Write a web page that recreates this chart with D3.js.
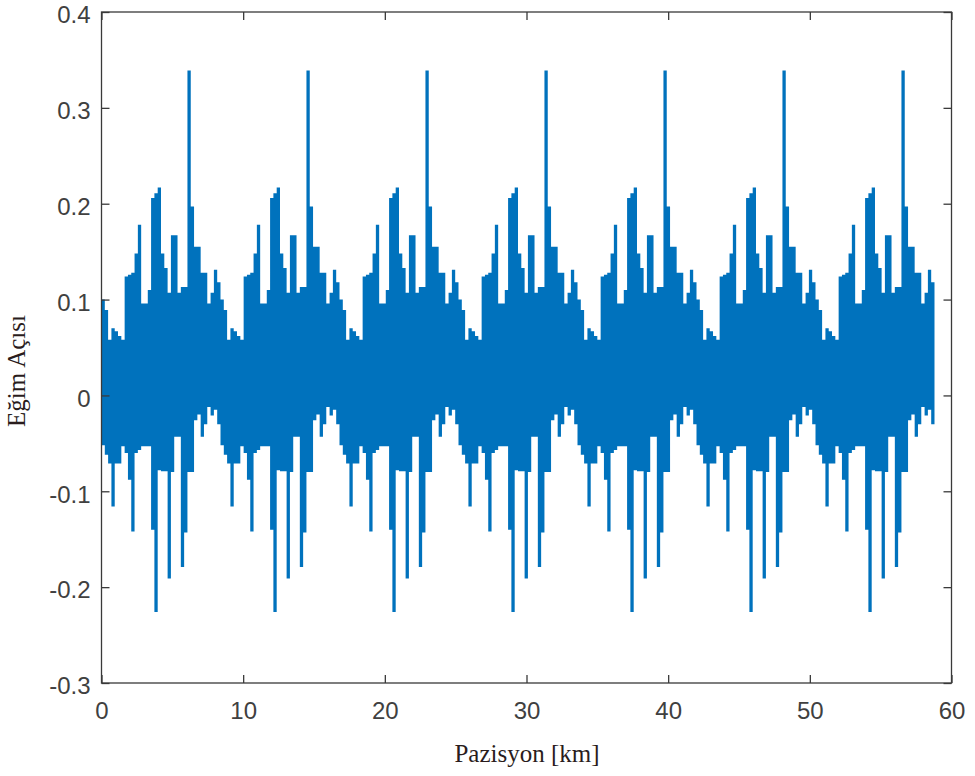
<!DOCTYPE html>
<html>
<head>
<meta charset="utf-8">
<script src="https://cdn.jsdelivr.net/npm/d3@7"></script>
<style>
  body { margin: 0; background: #fff; }
  svg { display: block; }
</style>
</head>
<body>
<div id="chart"></div>
<script>
// track is sampled every 8.4/36 km (36 samples per repeating section)
const step = 8.4 / 36;

// top edge of the trace, one row per section
const upper = [
  0.100,0.089,0.058,0.070,0.067,0.062,0.058,0.124,0.126,0.128,0.148,0.178,0.096,0.096,0.110,0.206,0.211,0.217,0.148,0.133,0.107,0.167,0.167,0.107,0.113,0.113,0.339,0.197,0.155,0.155,0.128,0.128,0.096,0.107,0.131,0.118,
  0.100,0.089,0.058,0.070,0.067,0.062,0.058,0.124,0.126,0.128,0.148,0.178,0.096,0.096,0.110,0.206,0.211,0.217,0.148,0.133,0.107,0.167,0.167,0.107,0.113,0.113,0.339,0.197,0.155,0.155,0.128,0.128,0.096,0.107,0.131,0.118,
  0.100,0.089,0.058,0.070,0.067,0.062,0.058,0.124,0.126,0.128,0.148,0.178,0.096,0.096,0.110,0.206,0.211,0.217,0.148,0.133,0.107,0.167,0.167,0.107,0.113,0.113,0.339,0.197,0.155,0.155,0.128,0.128,0.096,0.107,0.131,0.118,
  0.100,0.089,0.058,0.070,0.067,0.062,0.058,0.124,0.126,0.128,0.148,0.178,0.096,0.096,0.110,0.206,0.211,0.217,0.148,0.133,0.107,0.167,0.167,0.107,0.113,0.113,0.339,0.197,0.155,0.155,0.128,0.128,0.096,0.107,0.131,0.118,
  0.100,0.089,0.058,0.070,0.067,0.062,0.058,0.124,0.126,0.128,0.148,0.178,0.096,0.096,0.110,0.206,0.211,0.217,0.148,0.133,0.107,0.167,0.167,0.107,0.113,0.113,0.339,0.197,0.155,0.155,0.128,0.128,0.096,0.107,0.131,0.118,
  0.100,0.089,0.058,0.070,0.067,0.062,0.058,0.124,0.126,0.128,0.148,0.178,0.096,0.096,0.110,0.206,0.211,0.217,0.148,0.133,0.107,0.167,0.167,0.107,0.113,0.113,0.339,0.197,0.155,0.155,0.128,0.128,0.096,0.107,0.131,0.118,
  0.100,0.089,0.058,0.070,0.067,0.062,0.058,0.124,0.126,0.128,0.148,0.178,0.096,0.096,0.110,0.206,0.211,0.217,0.148,0.133,0.107,0.167,0.167,0.107,0.113,0.113,0.339,0.197,0.155,0.155,0.128,0.128,0.096,0.107,0.131,0.118
];

// bottom edge of the trace
const lower = [
  -0.052,-0.062,-0.071,-0.116,-0.071,-0.071,-0.053,-0.060,-0.088,-0.142,-0.060,-0.057,-0.053,-0.053,-0.053,-0.140,-0.226,-0.078,-0.079,-0.079,-0.191,-0.080,-0.043,-0.043,-0.179,-0.143,-0.080,-0.080,-0.026,-0.020,-0.043,-0.030,-0.012,-0.021,-0.015,-0.030,
  -0.052,-0.062,-0.071,-0.116,-0.071,-0.071,-0.053,-0.060,-0.088,-0.142,-0.060,-0.057,-0.053,-0.053,-0.053,-0.140,-0.226,-0.078,-0.079,-0.079,-0.191,-0.080,-0.043,-0.043,-0.179,-0.143,-0.080,-0.080,-0.026,-0.020,-0.043,-0.030,-0.012,-0.021,-0.015,-0.030,
  -0.052,-0.062,-0.071,-0.116,-0.071,-0.071,-0.053,-0.060,-0.088,-0.142,-0.060,-0.057,-0.053,-0.053,-0.053,-0.140,-0.226,-0.078,-0.079,-0.079,-0.191,-0.080,-0.043,-0.043,-0.179,-0.143,-0.080,-0.080,-0.026,-0.020,-0.043,-0.030,-0.012,-0.021,-0.015,-0.030,
  -0.052,-0.062,-0.071,-0.116,-0.071,-0.071,-0.053,-0.060,-0.088,-0.142,-0.060,-0.057,-0.053,-0.053,-0.053,-0.140,-0.226,-0.078,-0.079,-0.079,-0.191,-0.080,-0.043,-0.043,-0.179,-0.143,-0.080,-0.080,-0.026,-0.020,-0.043,-0.030,-0.012,-0.021,-0.015,-0.030,
  -0.052,-0.062,-0.071,-0.116,-0.071,-0.071,-0.053,-0.060,-0.088,-0.142,-0.060,-0.057,-0.053,-0.053,-0.053,-0.140,-0.226,-0.078,-0.079,-0.079,-0.191,-0.080,-0.043,-0.043,-0.179,-0.143,-0.080,-0.080,-0.026,-0.020,-0.043,-0.030,-0.012,-0.021,-0.015,-0.030,
  -0.052,-0.062,-0.071,-0.116,-0.071,-0.071,-0.053,-0.060,-0.088,-0.142,-0.060,-0.057,-0.053,-0.053,-0.053,-0.140,-0.226,-0.078,-0.079,-0.079,-0.191,-0.080,-0.043,-0.043,-0.179,-0.143,-0.080,-0.080,-0.026,-0.020,-0.043,-0.030,-0.012,-0.021,-0.015,-0.030,
  -0.052,-0.062,-0.071,-0.116,-0.071,-0.071,-0.053,-0.060,-0.088,-0.142,-0.060,-0.057,-0.053,-0.053,-0.053,-0.140,-0.226,-0.078,-0.079,-0.079,-0.191,-0.080,-0.043,-0.043,-0.179,-0.143,-0.080,-0.080,-0.026,-0.020,-0.043,-0.030,-0.012,-0.021,-0.015,-0.030
];

const xTicks = [0, 10, 20, 30, 40, 50, 60];
const yTicks = [-0.3, -0.2, -0.1, 0, 0.1, 0.2, 0.3, 0.4];

const width = 975, height = 776;
const plotLeft = 101.5, plotRight = 951.5, plotTop = 12, plotBottom = 683;
const axisColor = "#3a3a3a";
const lineColor = "#0072BD";

const svg = d3.select("#chart").append("svg")
  .attr("width", width)
  .attr("height", height);

const x = d3.scaleLinear().domain([0, 60]).range([plotLeft, plotRight]);
const y = d3.scaleLinear().domain([-0.3, 0.4]).range([plotBottom, plotTop]);

// one row per sample, plus a closing point so the last step has width
const rows = upper.map((u, i) => ({ pos: i * step, hi: u, lo: lower[i] }));
rows.push({ pos: upper.length * step, hi: upper[upper.length - 1], lo: lower[lower.length - 1] });

svg.append("defs").append("clipPath").attr("id", "plot-clip")
  .append("rect")
  .attr("x", plotLeft).attr("y", plotTop)
  .attr("width", plotRight - plotLeft).attr("height", plotBottom - plotTop);

const area = d3.area()
  .x(d => x(d.pos))
  .y0(d => y(d.lo))
  .y1(d => y(d.hi))
  .curve(d3.curveStepAfter);

svg.append("path")
  .datum(rows)
  .attr("clip-path", "url(#plot-clip)")
  .attr("fill", lineColor)
  .attr("d", area);

const fmt = d => d === 0 ? "0" : (Math.abs(d) < 1 ? d.toFixed(1) : String(d));

function styleAxis(g) {
  g.select(".domain").remove();
  g.selectAll(".tick line").attr("stroke", axisColor).attr("stroke-width", 1.3);
  g.selectAll(".tick text")
    .attr("fill", "#404040")
    .style("font-family", "'Liberation Sans', Arial, sans-serif")
    .style("font-size", "24px");
}

svg.append("g")
  .attr("transform", `translate(0,${plotBottom})`)
  .call(d3.axisBottom(x).tickValues(xTicks).tickFormat(fmt).tickSizeInner(-8).tickSizeOuter(0).tickPadding(19))
  .call(styleAxis);

svg.append("g")
  .attr("transform", `translate(${plotLeft},0)`)
  .call(d3.axisLeft(y).tickValues(yTicks).tickFormat(fmt).tickSizeInner(-8).tickSizeOuter(0).tickPadding(11))
  .call(styleAxis)
  .call(g => g.selectAll(".tick text").attr("dy", "0.45em"));

svg.append("g")
  .attr("transform", `translate(0,${plotTop})`)
  .call(d3.axisTop(x).tickValues(xTicks).tickFormat("").tickSizeInner(-8).tickSizeOuter(0))
  .call(styleAxis);

svg.append("g")
  .attr("transform", `translate(${plotRight},0)`)
  .call(d3.axisRight(y).tickValues(yTicks).tickFormat("").tickSizeInner(-8).tickSizeOuter(0))
  .call(styleAxis);

svg.append("rect")
  .attr("x", plotLeft).attr("y", plotTop)
  .attr("width", plotRight - plotLeft).attr("height", plotBottom - plotTop)
  .attr("fill", "none")
  .attr("stroke", axisColor)
  .attr("stroke-width", 1.3);

svg.append("text")
  .attr("transform", "translate(25,371) rotate(-90)")
  .attr("text-anchor", "middle")
  .attr("fill", "#2a1c1c")
  .style("font-family", "'Liberation Serif', 'Times New Roman', serif")
  .style("font-size", "25px")
  .text("Eğim Açısı");

svg.append("text")
  .attr("x", 527)
  .attr("y", 762)
  .attr("text-anchor", "middle")
  .attr("fill", "#2a1c1c")
  .style("font-family", "'Liberation Serif', 'Times New Roman', serif")
  .style("font-size", "25px")
  .text("Pazisyon [km]");
</script>
</body>
</html>
